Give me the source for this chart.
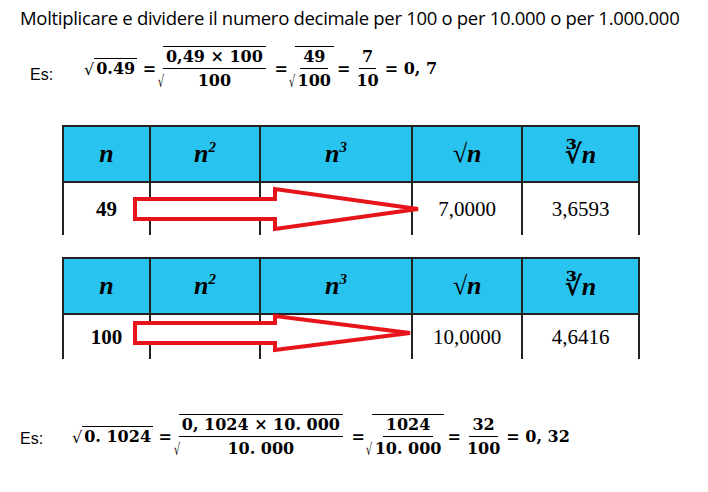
<!DOCTYPE html>
<html><head><meta charset="utf-8">
<script src="https://cdn.jsdelivr.net/npm/chart.js@4"></script>
<style>
body{margin:0;width:708px;height:492px;background:#fff;position:relative;font-family:Calibri,"Liberation Sans",sans-serif;overflow:hidden}
.t{position:absolute;left:20px;top:5px;font-size:18.5px;color:#000;font-family:"Open Sans","Liberation Sans",sans-serif;letter-spacing:-0.3px}
.f{position:absolute;font-family:"DejaVu Serif",serif;font-weight:bold;font-size:16px;display:flex;align-items:center}
.es{font-family:"Liberation Sans",sans-serif;font-weight:normal;font-size:16px;position:absolute}
.fr{display:inline-flex;flex-direction:column;align-items:center;margin:0 3px}
.fr span:first-child{border-bottom:1.5px solid #000;padding:0 3px 2px}
.fr span:last-child{padding:2px 3px 0}
.rad{display:inline-flex;align-items:flex-end}
.rad .s{font-weight:normal;font-size:1em;line-height:1}
.rad .b{border-top:1.5px solid #000;padding:0 2px}
.big{font-size:44px;font-weight:100;transform:scaleX(0.6);margin:0 -6px}
table{position:absolute;border-collapse:collapse;table-layout:fixed;width:566px}
td{border:2px solid #222;padding:0;text-align:center;font-family:"Liberation Serif","DejaVu Serif",serif;font-size:21px}
tr.h td{background:#29c3ef;font-style:italic;font-weight:bold;font-size:26px;height:54px}
tr.r td{height:52px;border-bottom:none}
svg{position:absolute;left:0;top:0}
</style></head><body>
<div class="t">Moltiplicare e dividere il numero decimale per 100 o per 10.000 o per 1.000.000</div>
<div class="es" style="left:30px;top:66px">Es:</div>
<div class="f" style="left:84px;top:46px">
 <span class="rad"><span class="s">√</span><span class="b">0.49</span></span>&nbsp;=&nbsp;
 <span class="rad"><span class="s big">√</span><span class="fr" style="border-top:1.5px solid #000"><span>0,49 × 100</span><span>100</span></span></span>&nbsp;=&nbsp;
 <span class="rad"><span class="s big">√</span><span class="fr" style="border-top:1.5px solid #000"><span>49</span><span>100</span></span></span>=
 <span class="fr"><span>7</span><span>10</span></span>= 0, 7
</div>
<div id="tables"></div>
<div class="es" style="left:20px;top:430px">Es:</div>
<div class="f" style="left:72px;top:414px">
 <span class="rad"><span class="s">√</span><span class="b">0. 1024</span></span>&nbsp;=&nbsp;
 <span class="rad"><span class="s big">√</span><span class="fr" style="border-top:1.5px solid #000"><span>0, 1024 × 10. 000</span><span>10. 000</span></span></span>&nbsp;=&nbsp;
 <span class="rad"><span class="s big">√</span><span class="fr" style="border-top:1.5px solid #000"><span>1024</span><span>10. 000</span></span></span>=
 <span class="fr"><span>32</span><span>100</span></span>= 0, 32
</div>
<svg width="708" height="492">
 <polygon points="135,199 275,199 275,189 418,209 275,229 275,219 135,219" fill="#fff" stroke="#e8141b" stroke-width="4"/>
 <polygon points="135,323 275,323 275,316 410,333 275,350 275,343 135,343" fill="#fff" stroke="#e8141b" stroke-width="4"/>
</svg>
<script>
const headers = ['n', 'n<sup style="font-size:15px">2</sup>', 'n<sup style="font-size:15px">3</sup>', '√n', '∛n'];
const colWidths = [85, 108, 150, 108, 115];
const rowsN = ['49', '100'];
const rowsSqrt = ['7,0000', '10,0000'];
const rowsCbrt = ['3,6593', '4,6416'];
const tops = [125, 257];

const box = document.getElementById('tables');
rowsN.forEach((n, i) => {
    const t = document.createElement('table');
    t.style.left = '62px';
    t.style.top = tops[i] + 'px';
    let h = '<tr class="h">' + headers.map((x, j) => `<td style="width:${colWidths[j]}px">${x}</td>`).join('') + '</tr>';
    const cells = [n, '', '', rowsSqrt[i], rowsCbrt[i]];
    h += '<tr class="r">' + cells.map((c, j) => `<td style="${j === 0 ? 'font-weight:bold' : ''};${i ? 'height:44px' : ''}">${c}</td>`).join('') + '</tr>';
    t.innerHTML = h;
    box.appendChild(t);
});
</script>
</body></html>
